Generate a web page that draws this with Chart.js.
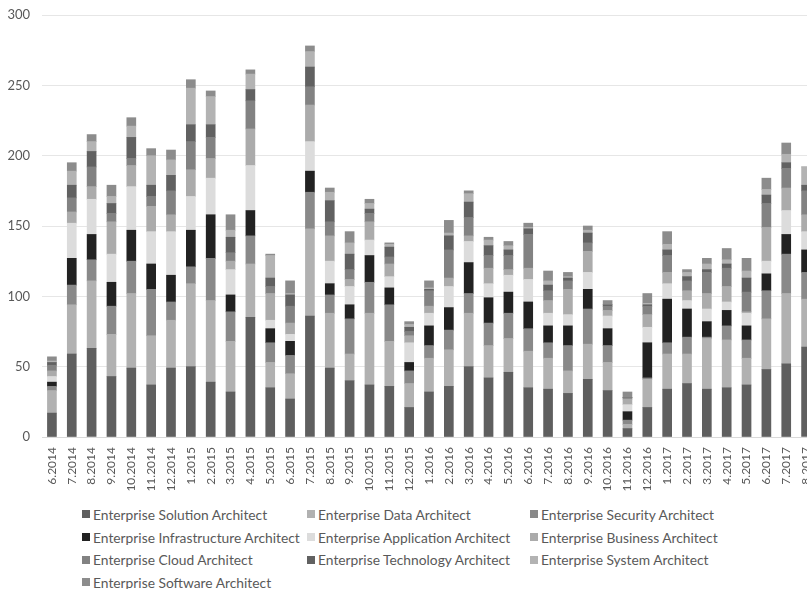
<!DOCTYPE html>
<html>
<head>
<meta charset="utf-8">
<script src="https://cdn.jsdelivr.net/npm/chart.js@4/dist/chart.umd.min.js"></script>
<style>
  html, body { margin: 0; padding: 0; background: #fff; width: 807px; height: 589px; overflow: hidden; }
  #wrap { position: relative; width: 807px; height: 589px; overflow: hidden; }
  #chart { position: absolute; left: 0; top: 0; }
  #legend {
    position: absolute; left: 82px; top: 503px;
    display: grid; grid-template-columns: 225px 223px auto; grid-auto-rows: 22.7px;
    font: 13.8px Lato, "Open Sans", sans-serif; color: #595959;
  }
  #legend .item { display: flex; align-items: center; white-space: nowrap; }
  #legend .box { width: 8px; height: 8px; margin-right: 3px; flex: none; }
</style>
</head>
<body>
<div id="wrap">
  <canvas id="chart" width="816" height="500"></canvas>
  <div id="legend"></div>
</div>
<script>
// Month labels (month.year)
const months = [
  '6.2014','7.2014','8.2014','9.2014','10.2014','11.2014','12.2014',
  '1.2015','2.2015','3.2015','4.2015','5.2015','6.2015','7.2015','8.2015','9.2015','10.2015','11.2015','12.2015',
  '1.2016','2.2016','3.2016','4.2016','5.2016','6.2016','7.2016','8.2016','9.2016','10.2016','11.2016','12.2016',
  '1.2017','2.2017','3.2017','4.2017','5.2017','6.2017','7.2017','8.2017'
];

// Job postings per role and month
const solutionArchitect       = [17,59,63,43,49,37,49,50,39,32,85,35,27,86,49,40,37,36,21,32,36,50,42,46,35,34,31,41,33,6,21,34,38,34,35,37,48,52,64];
const dataArchitect           = [16,35,48,30,53,35,34,59,58,36,38,18,18,62,39,19,51,32,17,24,26,38,23,24,26,22,16,25,20,3,20,25,21,36,34,19,36,50,34];
const securityArchitect       = [3,14,15,20,23,33,13,12,30,21,20,14,13,26,13,25,22,26,9,9,14,14,16,18,16,11,18,25,12,3,1,8,12,1,10,13,20,28,19];
const infrastructureArchitect = [3,19,18,17,22,18,19,26,31,12,18,10,10,15,8,10,19,12,6,14,16,22,18,15,19,12,14,14,12,6,25,31,20,11,11,10,12,14,16];
const applicationArchitect    = [4,25,25,20,31,23,31,24,26,18,32,6,5,21,16,13,11,8,14,9,15,15,10,12,16,9,8,12,9,5,11,11,6,9,6,9,9,17,13];
const businessArchitect       = [4,8,9,23,15,18,12,19,14,6,26,19,8,26,18,5,13,9,5,5,6,4,11,4,8,9,18,15,4,4,9,8,7,11,11,1,24,16,12];
const cloudArchitect          = [4,10,14,6,5,7,17,20,15,6,20,5,12,13,10,7,6,5,3,11,20,13,9,10,24,7,6,6,3,1,6,12,7,15,13,14,17,14,17];
const technologyArchitect     = [2,9,11,7,15,8,11,12,9,11,8,6,8,14,15,11,3,7,3,1,10,11,7,4,4,4,2,7,1,0,1,4,3,2,3,10,6,4,4];
const systemArchitect         = [1,10,7,5,8,21,11,26,20,5,11,16,1,11,6,8,4,2,2,1,2,6,4,3,1,3,1,2,0,0,1,4,3,4,3,5,4,6,13];
const softwareArchitect       = [3,6,5,8,6,5,7,6,4,11,3,1,9,4,3,8,3,1,2,5,9,2,2,3,3,7,3,3,3,4,7,9,2,4,8,9,8,8,0];

const yTicks = [0, 50, 100, 150, 200, 250, 300];

const series = [
  ['Enterprise Solution Architect',       solutionArchitect,       '#5f5f5f'],
  ['Enterprise Data Architect',           dataArchitect,           '#b1b1b1'],
  ['Enterprise Security Architect',       securityArchitect,       '#898989'],
  ['Enterprise Infrastructure Architect', infrastructureArchitect, '#222222'],
  ['Enterprise Application Architect',    applicationArchitect,    '#dcdcdc'],
  ['Enterprise Business Architect',       businessArchitect,       '#ababab'],
  ['Enterprise Cloud Architect',          cloudArchitect,          '#828282'],
  ['Enterprise Technology Architect',     technologyArchitect,     '#616161'],
  ['Enterprise System Architect',         systemArchitect,         '#b3b3b3'],
  ['Enterprise Software Architect',       softwareArchitect,       '#8c8c8c']
];

const FONT = 'Lato, "Open Sans", sans-serif';
const TEXT = '#595959';

const chart = new Chart(document.getElementById('chart'), {
  type: 'bar',
  data: {
    labels: months,
    datasets: series.map(([label, values, color]) => ({
      label, data: values, backgroundColor: color, borderWidth: 0,
      barThickness: 9
    }))
  },
  options: {
    responsive: false,
    animation: false,
    devicePixelRatio: 1,
    events: [],
    layout: { padding: { top: 15, right: 0, bottom: 0, left: 0 } },
    plugins: { legend: { display: false }, tooltip: { enabled: false } },
    scales: {
      x: {
        stacked: true,
        grid: { display: false, drawTicks: false },
        border: { display: true, color: '#d9d9d9' },
        ticks: {
          autoSkip: false, minRotation: 90, maxRotation: 90, padding: 10,
          color: TEXT, font: { family: FONT, size: 12 }
        },
        // the plot runs to the canvas edge; no room reserved for label overhang
        afterFit: s => { s.height = 63; s.paddingLeft = 0; s.paddingRight = 0; }
      },
      y: {
        stacked: true, min: 0, max: 300,
        afterBuildTicks: s => { s.ticks = yTicks.map(v => ({ value: v })); },
        grid: { color: '#e6e6e6', drawTicks: false },
        border: { display: false },
        ticks: { padding: 12, color: TEXT, font: { family: FONT, size: 13 } },
        afterFit: s => { s.width = 42; s.paddingTop = 0; s.paddingBottom = 0; }
      }
    }
  }
});

// Legend laid out in three columns below the plot
const legendEl = document.getElementById('legend');
Chart.defaults.plugins.legend.labels.generateLabels(chart).forEach(item => {
  const el = document.createElement('div');
  el.className = 'item';
  const box = document.createElement('span');
  box.className = 'box';
  box.style.background = item.fillStyle;
  el.appendChild(box);
  el.appendChild(document.createTextNode(item.text));
  legendEl.appendChild(el);
});
</script>
</body>
</html>
